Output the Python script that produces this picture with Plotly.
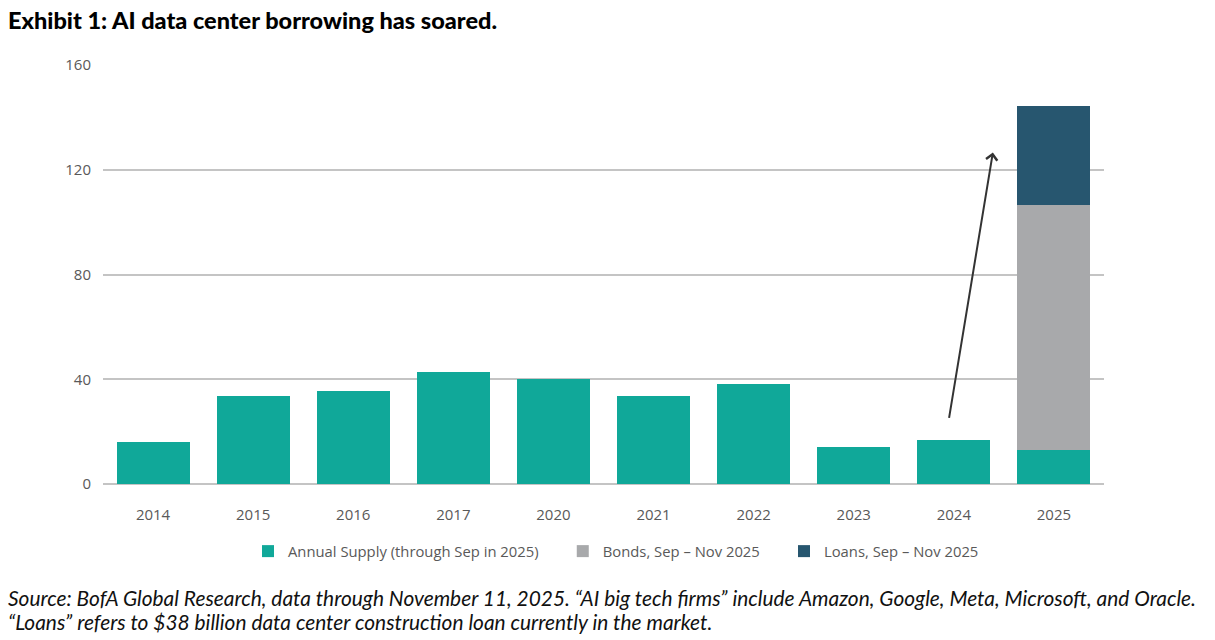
import plotly.graph_objects as go

years = ["2014", "2015", "2016", "2017", "2020", "2021", "2022", "2023", "2024", "2025"]
annual_supply = [16.0, 33.6, 35.6, 42.7, 40.0, 33.6, 38.2, 14.1, 16.7, 12.8]
bonds_years = ["2025"]
bonds = [93.6]
loans_years = ["2025"]
loans = [38.0]
y_ticks = [0, 40, 80, 120, 160]

title_text = "Exhibit 1: AI data center borrowing has soared."
source_lines = [
    "Source: BofA Global Research, data through November 11, 2025. \u201cAI big tech firms\u201d include Amazon, Google, Meta, Microsoft, and Oracle.",
    "\u201cLoans\u201d refers to $38 billion data center construction loan currently in the market.",
]

TEAL = "#10a899"
GREY = "#a8a9ab"
NAVY = "#27566f"
PAD = "\u00a0" * 5

fig = go.Figure()
fig.add_trace(go.Bar(x=years, y=annual_supply, name="Annual Supply (through Sep in 2025)" + PAD,
                     marker=dict(color=TEAL, line=dict(width=0))))
fig.add_trace(go.Bar(x=bonds_years, y=bonds, name="Bonds, Sep \u2013 Nov 2025" + PAD,
                     marker=dict(color=GREY, line=dict(width=0))))
fig.add_trace(go.Bar(x=loans_years, y=loans, name="Loans, Sep \u2013 Nov 2025",
                     marker=dict(color=NAVY, line=dict(width=0))))

fig.update_layout(
    barmode="stack",
    bargap=0.27,
    width=1215, height=640,
    margin=dict(l=103, r=111, t=65, b=156),
    paper_bgcolor="white", plot_bgcolor="white",
    font=dict(family="Open Sans", color="#595959", size=14),
    title=dict(text=title_text, xref="container", yref="container",
               x=8/1215, xanchor="left", y=1-21/640, yanchor="middle",
               font=dict(family="Lato", size=23.5, color="#000000", weight=900)),
    xaxis=dict(type="category", range=[-0.5, 9.5], showgrid=False, showline=False,
               ticks="", tickfont=dict(size=15, color="#595959"), ticklabelstandoff=20),
    yaxis=dict(range=[0, 160], tickvals=y_ticks, showgrid=True, gridcolor="#c4c4c4",
               gridwidth=2, zeroline=True, zerolinecolor="#c4c4c4", zerolinewidth=2,
               showline=False, ticks="", tickfont=dict(size=15, color="#595959"),
               ticklabelstandoff=11),
    legend=dict(orientation="h", x=(248-103)/1001, xanchor="left",
                y=(483.5-551)/419, yanchor="middle",
                font=dict(size=14.8, color="#595959"), itemwidth=30,
                traceorder="normal"),
    showlegend=True,
)

fig.add_annotation(x=8.39, y=126.6, ax=7.95, ay=24.7, xref="x", yref="y",
                   axref="x", ayref="y", text="", showarrow=True,
                   arrowhead=4, arrowsize=1.1, arrowwidth=2, arrowcolor="#333333")

for i, line in enumerate(source_lines):
    fig.add_annotation(text=line, xref="paper", yref="paper",
                       x=-97/1001, xanchor="left",
                       y=(483.5-(597+24*i))/419, yanchor="middle",
                       showarrow=False,
                       font=dict(family="Lato", size=20.9, color="#111111", style="italic"))

fig.write_html("out.html", config={"displayModeBar": False},
               post_script="document.body.style.margin='0';")
